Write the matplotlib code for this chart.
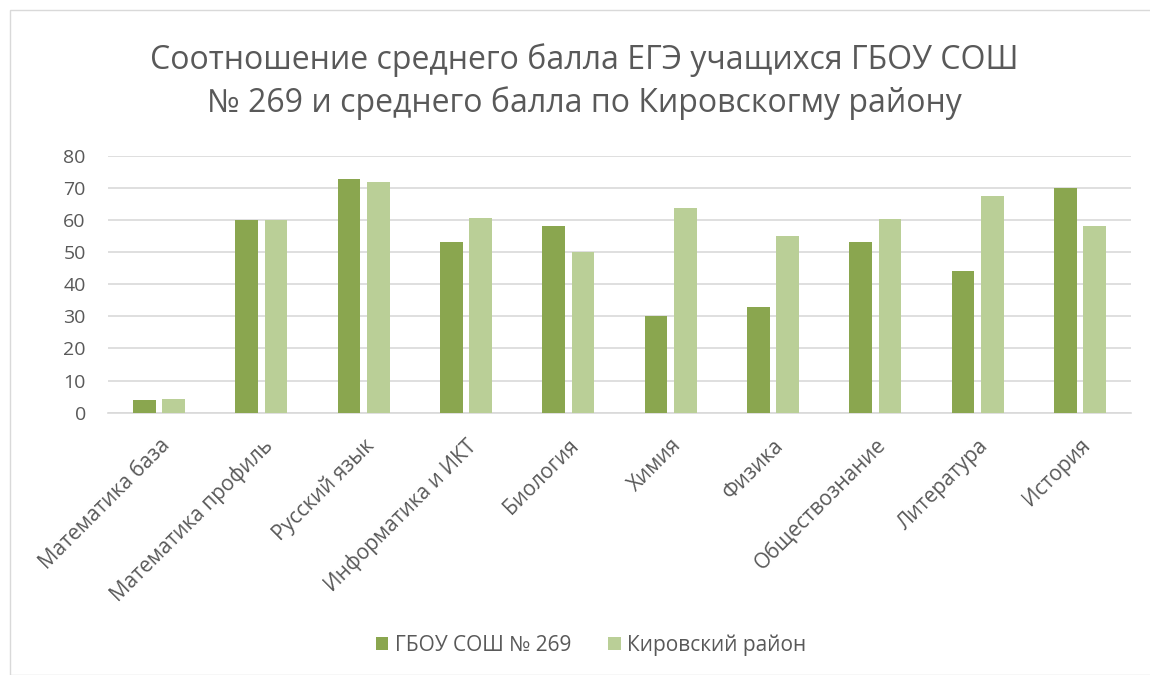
import matplotlib.pyplot as plt
import numpy as np

plt.rcParams['font.family'] = ['Open Sans', 'DejaVu Sans']

subjects = ["Математика база", "Математика профиль", "Русский язык", "Информатика и ИКТ",
            "Биология", "Химия", "Физика", "Обществознание", "Литература", "История"]
school = [4, 60, 72.6, 53, 58, 30, 33, 53, 44, 70]
district = [4.3, 60, 71.8, 60.7, 50, 63.6, 54.9, 60.2, 67.5, 58.1]

dark = "#8AA64F"
light = "#BACF97"
text_col = "#595959"

fig = plt.figure(figsize=(11.5, 6.75), dpi=100)
ax = fig.add_axes([108 / 1150, 1 - 412.7 / 675, 1023 / 1150, 257 / 675])

x = np.arange(len(subjects))
w = 0.222
ax.bar(x - 0.143, school, w, color=dark, label="ГБОУ СОШ № 269", zorder=3)
ax.bar(x + 0.143, district, w, color=light, label="Кировский район", zorder=3)

ax.set_xlim(-0.5, len(subjects) - 0.5)
ax.set_ylim(0, 80)
ax.set_yticks(range(0, 81, 10))
ax.yaxis.grid(True, color="#D9D9D9", linewidth=1.2, zorder=0)
for s in ["top", "right", "left"]:
    ax.spines[s].set_visible(False)
ax.spines["bottom"].set_color("#D9D9D9")
ax.spines["bottom"].set_linewidth(1.2)
ax.tick_params(axis="y", length=0, labelsize=14, colors=text_col, pad=16)
ax.tick_params(axis="x", length=0, labelsize=15, colors=text_col, pad=16)
ax.set_xticks(x)
ax.set_xticklabels(subjects, rotation=45, ha="right", rotation_mode="anchor")

fig.text(0.508, 1 - 60 / 675, "Соотношение среднего балла ЕГЭ учащихся ГБОУ СОШ",
         ha="center", va="center", fontsize=23, color=text_col)
fig.text(0.508, 1 - 103 / 675, "№ 269 и среднего балла по Кировскогму району",
         ha="center", va="center", fontsize=23, color=text_col)

fig.legend(loc="center", bbox_to_anchor=(0.514, 1 - 645 / 675), ncol=2, frameon=False,
           fontsize=15, labelcolor=text_col, handlelength=0.6, handleheight=0.6,
           handletextpad=0.3, columnspacing=1.8)

fig.add_artist(plt.Rectangle((10 / 1150, 0), 1, 1 - 10 / 675, transform=fig.transFigure,
                             fill=False, edgecolor="#D9D9D9", linewidth=1))

fig.savefig("out.png", dpi=100)
